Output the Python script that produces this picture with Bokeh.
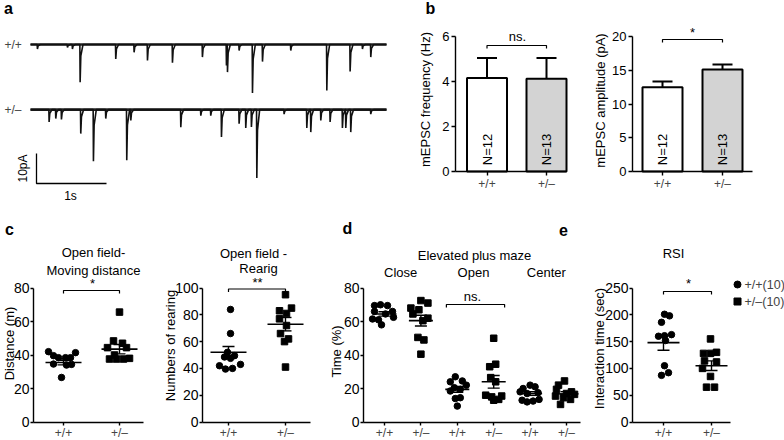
import numpy as np
from bokeh.plotting import figure
from bokeh.layouts import row, column
from bokeh.models import Range1d, FixedTicker, Label
from bokeh.embed import file_html
from bokeh.resources import INLINE

# ------------------------------------------------------------------ data
genotypes = ["+/+", "+/\u2013"]

# panel a : mEPSC events (time in s, amplitude in pA)
trace_len_s = 5.086
wt_event_t = [0.095, 0.524, 0.595, 0.705, 1.214, 1.476, 1.667, 2.024, 2.452,
              2.795, 2.810, 2.976, 3.167, 3.310, 3.714, 4.229, 4.562, 4.738, 4.857]
wt_event_amp = [1.5, 1.0, 1.5, 12.6, 4.8, 2.6, 5.3, 6.1, 4.2,
                7.0, 9.2, 2.0, 16.2, 5.7, 2.0, 15.3, 9.0, 1.5, 4.2]
het_event_t = [0.262, 0.357, 0.438, 0.714, 0.895, 1.071, 1.371, 1.429, 2.143,
               2.429, 2.571, 2.724, 2.976, 3.071, 3.152, 3.229, 3.619, 3.943,
               4.000, 4.143, 4.276, 4.452, 4.500, 4.571, 4.857]
het_event_amp = [4.1, 3.0, 3.3, 8.0, 17.2, 3.0, 16.9, 3.6, 5.9,
                 2.0, 2.0, 9.1, 4.7, 6.1, 5.8, 22.8, 1.5, 6.1,
                 7.5, 3.6, 4.1, 6.1, 6.1, 7.5, 1.5]
het_offset_pA = -21.7
scale_bar_s = 1.0
scale_bar_pA = 10.0

# panel b : mEPSC frequency / amplitude
b_freq_mean = [4.16, 4.12]
b_freq_sem = [0.89, 0.92]
b_amp_mean = [12.5, 15.1]
b_amp_sem = [0.84, 0.75]
b_n = [12, 13]

# panel c : open field
c1_wt = [42, 41.4, 39.6, 38.4, 38.4, 38.4, 34.6, 34, 34.4, 26.6]
c1_het = [65.6, 48.4, 47, 44.4, 44.4, 40, 37.6, 37.6, 37.6, 38]
c1_mean = [35.5, 43.5]
c1_sem = [1.4, 2.8]
c2_wt = [84, 66, 52, 49.5, 48.5, 47.5, 43, 42, 40, 39.5]
c2_het = [95, 85, 83, 81, 77, 72, 66, 62, 60, 41]
c2_mean = [52, 73]
c2_sem = [4.3, 5.0]

# panel d : elevated plus maze (Close, Open, Center) x (+/+, +/-)
d_arms = ["Close", "Open", "Center"]
d_close_wt = [70, 69.5, 69.5, 66, 66, 64.5, 62.5, 61.5, 61, 58]
d_close_het = [72.5, 71, 68, 67, 64.5, 62, 60.5, 50.5, 49, 40.5]
d_open_wt = [27, 24.5, 24, 22, 20.5, 19.5, 18.5, 14.5, 14, 9.5]
d_open_het = [50, 34.5, 33, 26.5, 24, 16, 15.5, 15, 13.5, 13]
d_center_wt = [22, 21, 20, 18, 17.5, 17, 13.5, 13, 12.5, 12]
d_center_het = [24.5, 22, 19.5, 18, 17, 16.5, 15.5, 14.5, 13.5, 10.5]
d_mean = [64.5, 60.5, 19.5, 24.0, 17.0, 16.8]
d_sem = [1.3, 3.2, 1.7, 3.8, 1.1, 1.3]

# panel e : RSI
e_wt = [201, 198, 186, 163, 161, 160, 152, 105, 92, 87]
e_het = [155, 130, 128, 128, 114, 112, 100, 85, 65, 65]
e_mean = [148, 105]
e_sem = [14, 9]
e_n = [10, 10]

# horizontal spread of the dots (pixels)
c1_wt_dx = [-15, 12, -10, -5, 2, 7, -10, 3, 8, -2]
c1_het_dx = [0, -6, 3, -12, 7, -5, -10, -3, 4, 10]
c2_wt_dx = [2, 2, -1, 6, -4, 2, 12, -9, 4, -3]
c2_het_dx = [0, 6, -6, 1, -6, 1, -5, 3, -1, 0]
d_dx = [[-4, -10, 3, 8, -10, 1, 9, -12, -6, -3],
        [0, 7, -10, -2, -8, 7, 2, -3, 3, 0],
        [-2, 5, -7, 9, -3, 3, -7, 3, -2, 0],
        [0, 2, -4, -3, 2, -8, 8, -2, 5, 0],
        [0, 5, -7, -10, 8, -3, 9, -8, 3, -3],
        [-2, -8, -10, 5, 0, 8, -11, -3, 4, -6]]
e_wt_dx = [1, 6, -2, 8, 1, -5, 2, 1, 5, -2]
e_het_dx = [-1, 5, -8, -1, -7, 5, -9, -1, -5, 3]

# ------------------------------------------------------------------ helpers
FONT = "Liberation Sans"
TXT = "#444444"


class Geo:
    """page-pixel <-> data mapping of one panel"""
    def __init__(self, x0, ppx, ybot, ppy):
        self.x0, self.ppx, self.ybot, self.ppy = x0, ppx, ybot, ppy

    def dx(self, X):
        return (X - self.x0) / self.ppx

    def dy(self, Y):
        return (self.ybot - Y) / self.ppy


def txt(p, g, X, Y, text, size="13px", angle=0.0, bold=False, color="black",
        align="center", font=FONT):
    p.add_layout(Label(x=g.dx(X), y=g.dy(Y), text=text, text_font=font,
                       text_font_size=size, text_align=align,
                       text_baseline="middle", angle=angle, text_color=color,
                       text_font_style="bold" if bold else "normal"))


def base_fig(L, R, T, B, g):
    p = figure(width=R - L, height=B - T, output_backend="svg", toolbar_location=None,
               x_range=Range1d(g.dx(L), g.dx(R)), y_range=Range1d(g.dy(B), g.dy(T)),
               min_border=0)
    p.grid.visible = False
    p.outline_line_color = None
    return p


def panel(L, R, T, B, g, axL, axR, ymax, xlabels, yticks, ysize, tick_out=4, ystand=2):
    p = base_fig(L, R, T, B, g)
    p.xaxis.ticker = FixedTicker(ticks=list(range(len(xlabels))))
    p.xaxis.major_label_overrides = {i: s for i, s in enumerate(xlabels)}
    p.yaxis.ticker = FixedTicker(ticks=yticks)
    p.yaxis.fixed_location = g.dx(axL)
    p.yaxis.bounds = (0, ymax)
    p.xaxis.fixed_location = 0
    p.xaxis.bounds = (g.dx(axL), g.dx(axR))
    for ax in p.axis:
        ax.axis_line_width = 1.4
        ax.axis_line_color = "black"
        ax.major_tick_line_width = 1.4
        ax.major_tick_line_color = "black"
        ax.major_tick_in = 0
        ax.major_tick_out = tick_out
        ax.minor_tick_line_color = None
        ax.major_label_text_font = FONT
    p.xaxis.major_label_text_font_size = "12px"
    p.xaxis.major_label_text_color = TXT
    p.xaxis.major_label_standoff = 1
    p.yaxis.major_label_text_font_size = ysize
    p.yaxis.major_label_text_color = "black"
    p.yaxis.major_label_standoff = ystand
    return p


def bracket(p, g, x0, x1, Y, drop=3):
    y = g.dy(Y)
    yd = g.dy(Y + drop)
    p.line([x0, x0, x1, x1], [yd, y, y, yd], line_color="black", line_width=1.2)


def dots(p, g, cat, vals, dx, marker):
    xs = [cat + v / g.ppx for v in dx]
    p.scatter(xs, vals, marker=marker, size=6.5, fill_color="black", line_color="black")


def mean_sem(p, g, cats, means, sems, half_px, cap_px=6):
    hw = half_px / g.ppx
    cw = cap_px / g.ppx
    cats = np.asarray(cats, float)
    m = np.asarray(means, float)
    s = np.asarray(sems, float)
    p.segment(cats - hw, m, cats + hw, m, line_color="black", line_width=1.6)
    p.segment(cats, m - s, cats, m + s, line_color="black", line_width=1.4)
    p.segment(cats - cw, m + s, cats + cw, m + s, line_color="black", line_width=1.4)
    p.segment(cats - cw, m - s, cats + cw, m - s, line_color="black", line_width=1.4)


# ------------------------------------------------------------------ panel a
PX_S, PX_PA = 70.0, 3.0          # scale of the traces (px per s, px per pA)
T1 = 204                         # height of the top row
ga = Geo(30.0, PX_S, 44.0, PX_PA)   # t=0 at x=30, 0 pA at y=44
pa = base_fig(0, 405, 0, T1, ga)
pa.xaxis.visible = False
pa.yaxis.visible = False


def trace(ev_t, ev_a, off):
    order = np.argsort(ev_t)
    ts = [ev_t[i] for i in order]
    am = [ev_a[i] for i in order]
    xs, ys = [0.0], [off]
    for k, (t, a) in enumerate(zip(ts, am)):
        nxt = ts[k + 1] if k + 1 < len(ts) else trace_len_s
        tail = min(t + 0.045, nxt - 0.001)
        mid = min(t + 0.014, tail)
        xs += [t, t + 0.004, mid, tail]
        ys += [off, off - a, off - 0.3 * a, off]
    xs.append(trace_len_s)
    ys.append(off)
    return xs, ys


for ev_t, ev_a, off in [(wt_event_t, wt_event_amp, 0.0),
                        (het_event_t, het_event_amp, het_offset_pA)]:
    xs, ys = trace(ev_t, ev_a, off)
    # noisy baseline band, then the recorded trace
    pa.line([0.0, trace_len_s], [off, off], line_color="#222222", line_width=2.6)
    pa.line(xs, ys, line_color="#111111", line_width=1.6)

# scale bar (anchored at page x=36, y=183)
sb_t0 = ga.dx(36)
sb_y0 = ga.dy(183)
pa.line([sb_t0, sb_t0, sb_t0 + scale_bar_s],
        [sb_y0 + scale_bar_pA, sb_y0, sb_y0], line_color="black", line_width=1.3)
txt(pa, ga, 22, 168, "10pA", size="12px", angle=np.pi / 2)
txt(pa, ga, 70, 195, "1s", size="12px")
txt(pa, ga, 8, 8, "a", size="16px", bold=True)
txt(pa, ga, 4, 44, genotypes[0], size="12px", color=TXT, align="left")
txt(pa, ga, 4, ga.ybot - het_offset_pA * PX_PA, genotypes[1], size="12px", color=TXT,
    align="left")

# ------------------------------------------------------------------ panel b
gb1 = Geo(486.5, 59.5, 171, 22.5)
pb1 = panel(405, 580, 0, T1, gb1, 455, 566, 6, genotypes, [0, 2, 4, 6], "13px")
gb2 = Geo(662, 60, 171, 6.75)
pb2 = panel(580, 784, 0, T1, gb2, 632, 752, 20, genotypes, [0, 5, 10, 15, 20], "13px")

for p, g, mean, sem in [(pb1, gb1, b_freq_mean, b_freq_sem),
                        (pb2, gb2, b_amp_mean, b_amp_sem)]:
    cats = np.arange(2)
    p.vbar(x=cats, top=mean, bottom=0, width=40 / g.ppx,
           fill_color=["white", "#d3d3d3"], line_color="black", line_width=2)
    m = np.asarray(mean)
    s = np.asarray(sem)
    cw = 10 / g.ppx
    p.segment(cats, m, cats, m + s, line_color="black", line_width=2)
    p.segment(cats - cw, m + s, cats + cw, m + s, line_color="black", line_width=2)
    for i, n in enumerate(b_n):
        txt(p, g, g.x0 + i * g.ppx, 149, "N=%d" % n, size="13px", angle=np.pi / 2)

txt(pb1, gb1, 430, 8, "b", size="16px", bold=True)
txt(pb1, gb1, 425, 99, "mEPSC frequency (Hz)", size="13px", angle=np.pi / 2)
bracket(pb1, gb1, 0, 1, 45, 3)
txt(pb1, gb1, 517, 36, "ns.", size="13px")

txt(pb2, gb2, 600, 100, "mEPSC amplitude (pA)", size="13px", angle=np.pi / 2)
bracket(pb2, gb2, 0, 1, 39, 3)
txt(pb2, gb2, 692, 32, "*", size="13px")

# ------------------------------------------------------------------ bottom row
YB, FH = 421.5, 134.0
T2, B2 = T1, 440
gc1 = Geo(63, 56, YB, FH / 80)
pc1 = panel(0, 160, T2, B2, gc1, 33, 143, 80, genotypes, [0, 20, 40, 60, 80], "14px", 3, 1)
gc2 = Geo(228, 57, YB, FH / 100)
pc2 = panel(160, 325, T2, B2, gc2, 202, 310, 100, genotypes,
            [0, 20, 40, 60, 80, 100], "14px", 3, 1)
gd = Geo(384, 36.4, YB, FH / 80)
pd = panel(325, 590, T2, B2, gd, 363, 580, 80, genotypes * 3,
           [0, 20, 40, 60, 80], "14px", 3, 1)
ge = Geo(663, 48, YB, FH / 250)
pe = panel(590, 784, T2, B2, ge, 632, 730, 250, genotypes,
           [0, 50, 100, 150, 200, 250], "14px", 3, 1)

# c1
dots(pc1, gc1, 0, c1_wt, c1_wt_dx, "circle")
dots(pc1, gc1, 1, c1_het, c1_het_dx, "square")
mean_sem(pc1, gc1, [0, 1], c1_mean, c1_sem, 18)
txt(pc1, gc1, 9, 229, "c", size="16px", bold=True)
txt(pc1, gc1, 93, 252, "Open field-", size="13px")
txt(pc1, gc1, 93, 270, "Moving distance", size="13px")
txt(pc1, gc1, 9, 343, "Distance (m)", size="13px", angle=np.pi / 2)
bracket(pc1, gc1, 0, 1, 290, 3)
txt(pc1, gc1, 92, 283, "*", size="13px")

# c2
dots(pc2, gc2, 0, c2_wt, c2_wt_dx, "circle")
dots(pc2, gc2, 1, c2_het, c2_het_dx, "square")
mean_sem(pc2, gc2, [0, 1], c2_mean, c2_sem, 18)
txt(pc2, gc2, 253, 253, "Open field -", size="13px")
txt(pc2, gc2, 258, 268, "Rearig", size="13px")
txt(pc2, gc2, 170, 345, "Numbers of rearing", size="13px", angle=np.pi / 2)
bracket(pc2, gc2, 0, 1, 288.5, 3)
txt(pc2, gc2, 257, 282, "**", size="13px")

# d
d_groups = [d_close_wt, d_close_het, d_open_wt, d_open_het, d_center_wt, d_center_het]
for i, vals in enumerate(d_groups):
    dots(pd, gd, i, vals, d_dx[i], "circle" if i % 2 == 0 else "square")
mean_sem(pd, gd, list(range(6)), d_mean, d_sem, 12)
txt(pd, gd, 347, 228, "d", size="16px", bold=True)
txt(pd, gd, 563, 229, "e", size="16px", bold=True)
txt(pd, gd, 474, 255, "Elevated plus maze", size="13px")
for i, arm in enumerate(d_arms):
    txt(pd, gd, gd.x0 + (2 * i + 0.5) * gd.ppx - 2, 272, arm, size="13px")
txt(pd, gd, 336, 351, "Time (%)", size="13px", angle=np.pi / 2)
bracket(pd, gd, 1.7, 3.3, 304, 3)
txt(pd, gd, 472, 296, "ns.", size="13px")

# e
dots(pe, ge, 0, e_wt, e_wt_dx, "circle")
dots(pe, ge, 1, e_het, e_het_dx, "square")
mean_sem(pe, ge, [0, 1], e_mean, e_sem, 16)
txt(pe, ge, 673, 253, "RSI", size="13px")
txt(pe, ge, 599, 348, "Interaction time (sec)", size="13px", angle=np.pi / 2)
bracket(pe, ge, 0, 1, 291, 3)
txt(pe, ge, 688, 283, "*", size="13px")
# legend
pe.scatter([ge.dx(737)], [ge.dy(284)], marker="circle", size=7, color="black")
pe.scatter([ge.dx(737)], [ge.dy(301)], marker="square", size=7, color="black")
txt(pe, ge, 744, 284, "%s(%d)" % (genotypes[0], e_n[0]), size="12.5px", color=TXT, align="left")
txt(pe, ge, 744, 301, "%s(%d)" % (genotypes[1], e_n[1]), size="12.5px", color=TXT, align="left")

layout = column(row(pa, pb1, pb2), row(pc1, pc2, pd, pe))

with open("out.html", "w") as f:
    f.write(file_html(layout, INLINE))
